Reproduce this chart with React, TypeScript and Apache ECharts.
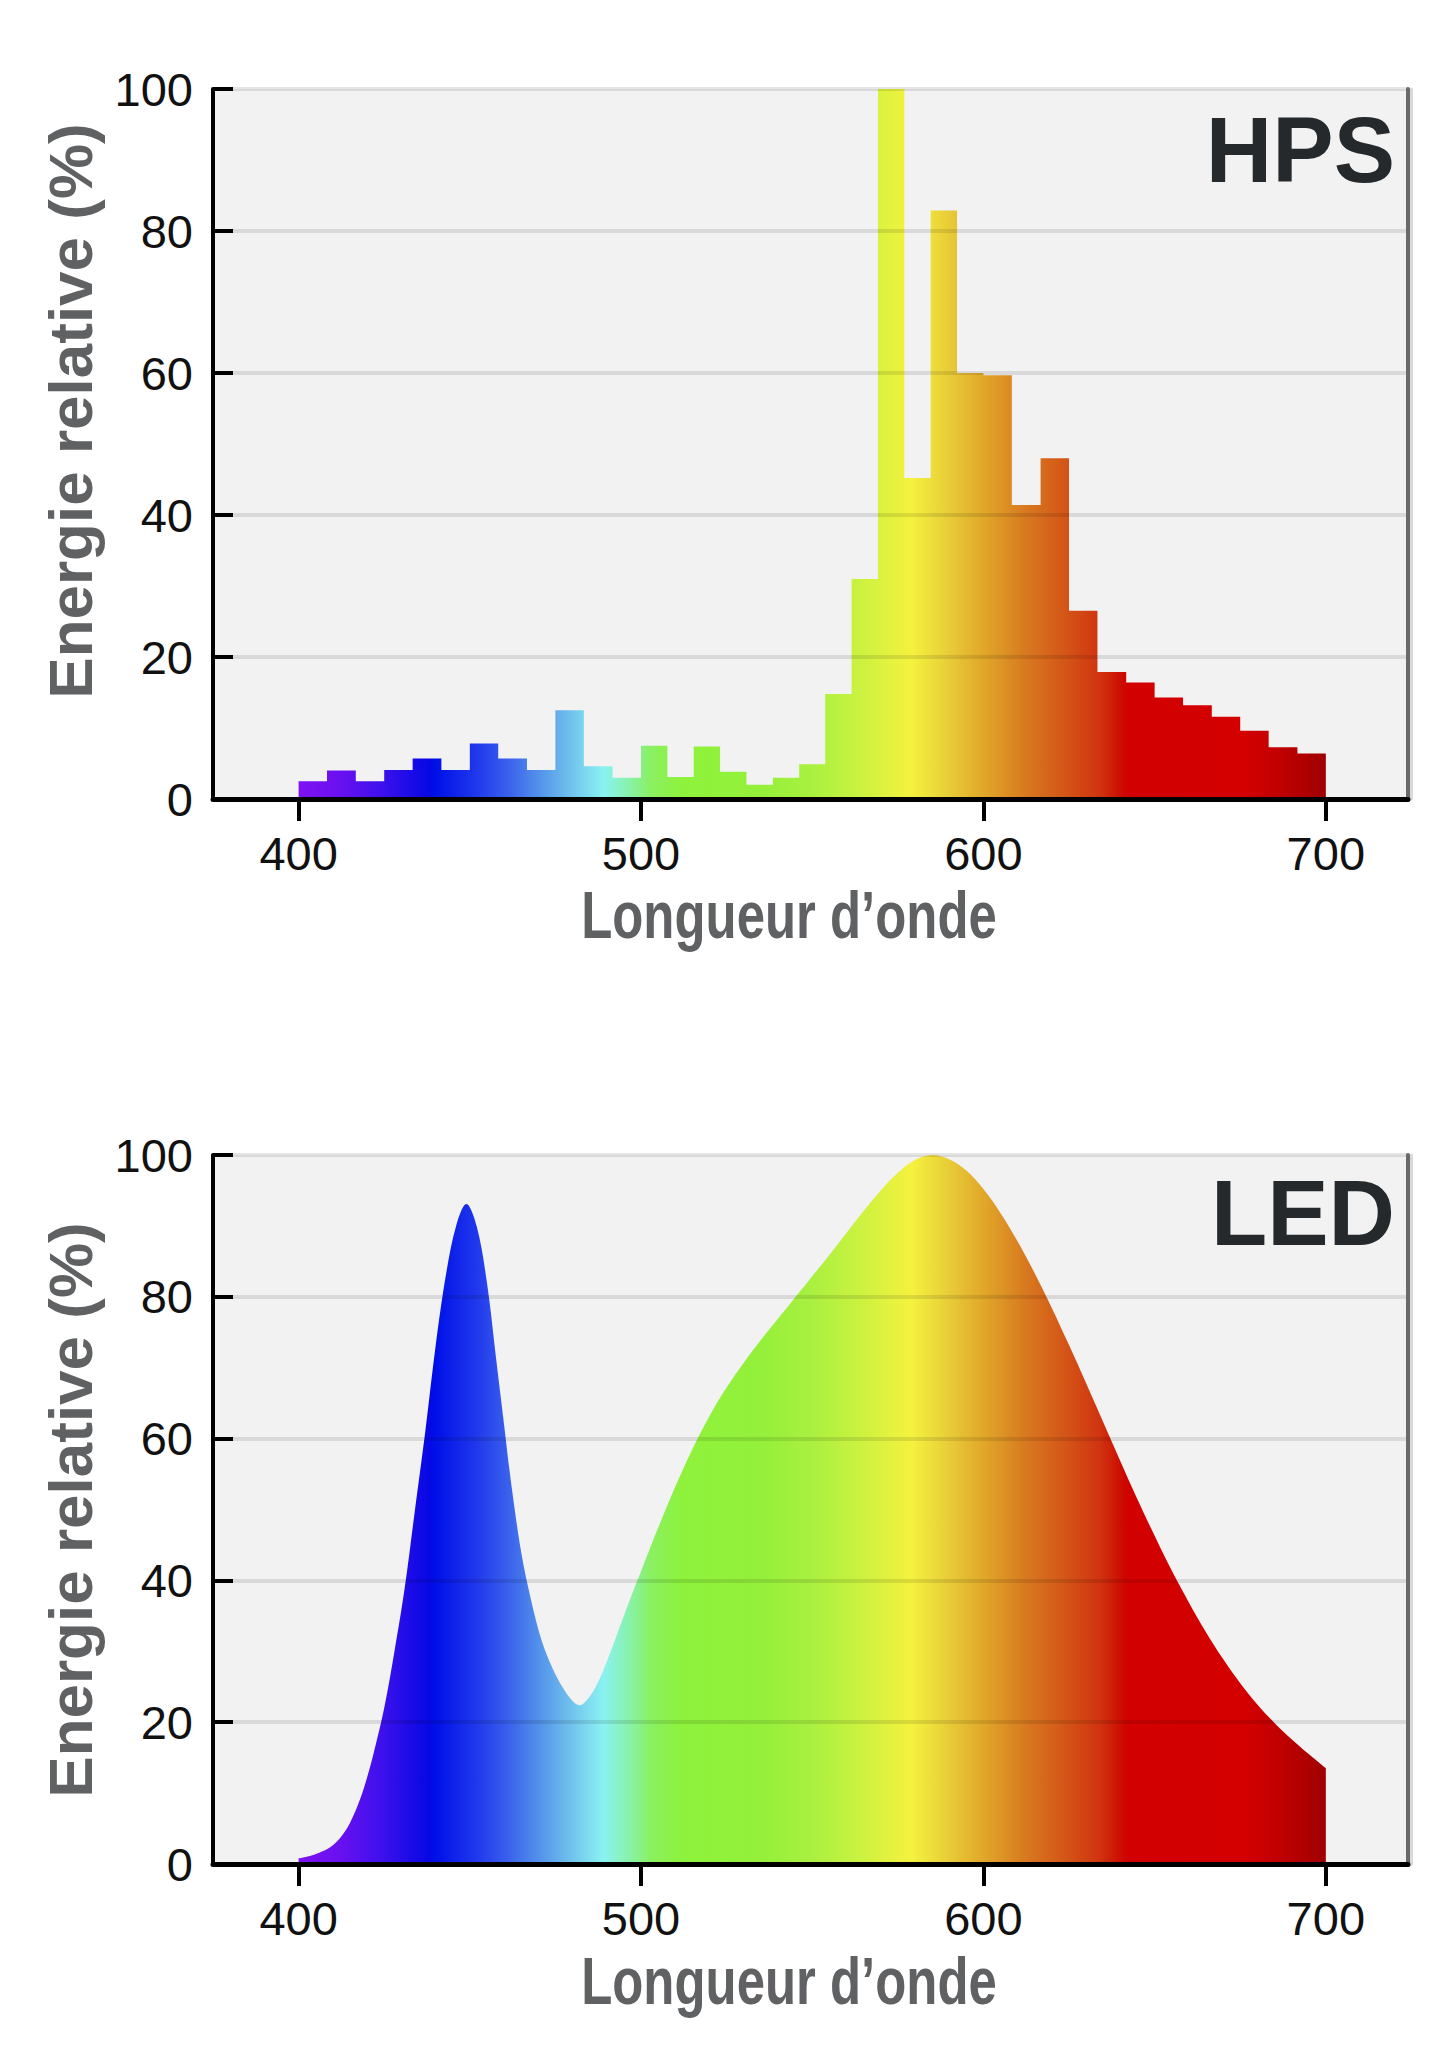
import React, { useEffect, useRef } from "react";
import * as echarts from "echarts";

// ---------- data ----------
const xTicks = [400, 500, 600, 700];
const yTicks = [0, 20, 40, 60, 80, 100];

const panelLabels = ["HPS", "LED"];
const yTitle = "Energie relative (%)";
const xTitle = "Longueur d’onde";

// HPS histogram: start wavelength of each bin, last bin ends at 700 nm
const hpsBinStart = [
  400, 408.3, 416.7, 425, 433.3, 441.7, 450, 458.3, 466.7, 475, 483.3, 491.7,
  500, 507.7, 515.4, 523.1, 530.8, 538.5, 546.2, 553.8, 561.5, 569.2, 576.9, 584.6, 592.3,
  600, 608.3, 616.7, 625, 633.3, 641.7, 650, 658.3, 666.7, 675, 683.3, 691.7,
];
const hpsBinEnd = 700;
const hpsValues = [
  2.5, 4.0, 2.5, 4.1, 5.7, 4.1, 7.8, 5.7, 4.1, 12.5, 4.6, 3.0,
  7.5, 3.1, 7.4, 3.85, 2.0, 3.0, 4.9, 14.8, 31.0, 100, 45.2, 82.9, 60.0,
  59.7, 41.4, 48.0, 26.5, 17.9, 16.4, 14.3, 13.2, 11.6, 9.6, 7.3, 6.4,
];

// LED spectrum
const ledWavelength = [
  400, 403, 406, 409, 412, 415, 418, 420, 422, 425, 428, 431, 434, 437, 440, 443, 446, 449,
  452, 455, 458, 460, 462, 465, 468, 471, 474, 477, 480, 482, 485, 488, 491, 494, 497, 500,
  503, 506, 510, 515, 520, 525, 530, 535, 540, 545, 550, 555, 560, 565, 570, 575, 580, 585,
  590, 595, 600, 605, 610, 615, 620, 625, 630, 635, 640, 645, 650, 655, 660, 665, 670, 675,
  680, 685, 690, 695, 700,
];
const ledValues = [
  0.8, 1.1, 1.6, 2.3, 3.6, 5.8, 9.2, 12.2, 15.8, 22, 30, 39, 50, 61, 73, 83, 90, 93.1,
  90, 82, 70, 62, 54, 44, 37, 31.5, 27.8, 25, 23, 22.4, 23.6, 26.2, 29.8, 33.7, 37.6, 41.3,
  45, 48.6, 53.2, 58.5, 63.2, 67.2, 70.7, 73.9, 76.9, 79.9, 82.9, 85.9, 89, 92.1, 95, 97.5, 99.3, 100,
  99.4, 97.8, 95.2, 91.8, 87.8, 83.3, 78.4, 73.2, 67.8, 62.3, 56.8, 51.4, 46.3, 41.4, 36.9, 32.7, 28.9, 25.5,
  22.5, 19.9, 17.6, 15.5, 13.5,
];

// colour spectrum (wavelength -> colour)
const spectrumNm = [
  400, 412, 425, 438, 440, 452, 462, 471, 480, 489, 496, 503, 512, 535, 550, 565, 579,
  590, 601, 612, 623, 634, 641, 643, 676, 687, 700,
];
const spectrumColors = [
  "#7e12f2", "#6a10f0", "#3a10ec", "#0608e4", "#0010e8", "#2038ec", "#3c64ec", "#5596ea",
  "#72c4ee", "#8af2f2", "#88f2b0", "#8af060", "#8ef23c", "#94f03a", "#aaf040", "#cef240",
  "#f4f23e", "#e8cc38", "#e0a428", "#d87a20", "#d45818", "#d03410", "#cc0800", "#d20000",
  "#d40000", "#c00000", "#a00000",
];

// ---------- layout ----------
const FONT = "'Liberation Sans', Arial, Helvetica, sans-serif";
const grids = [
  { left: 213, top: 89, width: 1195, height: 710 },
  { left: 213, top: 1155, width: 1195, height: 709 },
];
const yTitleCenters = [411, 1510];
const xTitleCenters = [915, 1981];
const labelCenters = [150, 1213];

function spectrumFill() {
  const lo = spectrumNm[0];
  const hi = spectrumNm[spectrumNm.length - 1];
  return new echarts.graphic.LinearGradient(
    0,
    0,
    1,
    0,
    spectrumNm.map((nm, i) => ({ offset: (nm - lo) / (hi - lo), color: spectrumColors[i] }))
  );
}

function buildOption() {
  const xAxes = grids.map((_, i) => ({
    type: "value",
    gridIndex: i,
    min: 375,
    max: 724,
    z: 3,
    axisLine: { show: true, onZero: false, lineStyle: { color: "#000", width: 5 } },
    axisTick: {
      show: true,
      inside: false,
      length: 22,
      customValues: xTicks,
      lineStyle: { color: "#000", width: 4 },
    },
    axisLabel: {
      show: true,
      customValues: xTicks,
      margin: 31,
      fontSize: 47,
      color: "#111",
      fontFamily: FONT,
    },
    splitLine: { show: false },
  }));

  const yAxes: any[] = [];
  grids.forEach((_, i) => {
    yAxes.push({
      type: "value",
      gridIndex: i,
      min: yTicks[0],
      max: yTicks[yTicks.length - 1],
      interval: yTicks[1] - yTicks[0],
      z: 3,
      axisLine: { show: true, onZero: false, lineStyle: { color: "#000", width: 4 } },
      axisTick: { show: true, inside: true, length: 20, lineStyle: { color: "#000", width: 4 } },
      axisLabel: { margin: 20, fontSize: 47, color: "#111", fontFamily: FONT },
      splitLine: { show: true, lineStyle: { color: "rgba(0,0,0,0.10)", width: 4 } },
    });
    // right-hand frame line
    yAxes.push({
      type: "value",
      gridIndex: i,
      position: "right",
      min: yTicks[0],
      max: yTicks[yTicks.length - 1],
      z: 3,
      axisLine: { show: true, onZero: false, lineStyle: { color: "#6a6a6a", width: 4 } },
      axisTick: { show: false },
      axisLabel: { show: false },
      splitLine: { show: false },
    });
    // faint shadow of the frame line
    yAxes.push({
      type: "value",
      gridIndex: i,
      position: "right",
      offset: 3,
      min: yTicks[0],
      max: yTicks[yTicks.length - 1],
      z: 3,
      axisLine: { show: true, onZero: false, lineStyle: { color: "rgba(0,0,0,0.15)", width: 3 } },
      axisTick: { show: false },
      axisLabel: { show: false },
      splitLine: { show: false },
    });
  });

  const hpsData = hpsBinStart
    .map((x, i) => [x, hpsValues[i]])
    .concat([[hpsBinEnd, hpsValues[hpsValues.length - 1]]]);
  const ledData = ledWavelength.map((x, i) => [x, ledValues[i]]);

  const graphic: any[] = [];
  grids.forEach((_, i) => {
    graphic.push({
      type: "text",
      x: 1395,
      y: labelCenters[i],
      z: 10,
      style: {
        text: panelLabels[i],
        fontSize: 92,
        fontWeight: "bold",
        fontFamily: FONT,
        fill: "#25292b",
        align: "right",
        verticalAlign: "middle",
        textAlign: "right",
        textVerticalAlign: "middle",
      },
    });
    graphic.push({
      type: "text",
      x: 70,
      y: yTitleCenters[i],
      rotation: Math.PI / 2,
      z: 10,
      style: {
        text: yTitle,
        fontSize: 62,
        fontWeight: "bold",
        fontFamily: FONT,
        fill: "#5f6163",
        align: "center",
        verticalAlign: "middle",
        textAlign: "center",
        textVerticalAlign: "middle",
      },
    });
    graphic.push({
      type: "text",
      x: 789,
      y: xTitleCenters[i],
      scaleX: 0.76,
      z: 10,
      style: {
        text: xTitle,
        fontSize: 67,
        fontWeight: "bold",
        fontFamily: FONT,
        fill: "#5f6163",
        align: "center",
        verticalAlign: "middle",
        textAlign: "center",
        textVerticalAlign: "middle",
      },
    });
  });

  return {
    animation: false,
    backgroundColor: "#ffffff",
    grid: grids.map((g) => ({
      ...g,
      show: true,
      backgroundColor: "#f2f2f2",
      borderWidth: 0,
      containLabel: false,
    })),
    xAxis: xAxes,
    yAxis: yAxes,
    series: [
      {
        name: "HPS",
        type: "line",
        xAxisIndex: 0,
        yAxisIndex: 0,
        step: "end",
        data: hpsData,
        symbol: "none",
        showSymbol: false,
        silent: true,
        z: 2,
        lineStyle: { width: 0, opacity: 0 },
        areaStyle: { color: spectrumFill(), opacity: 1 },
      },
      {
        name: "LED",
        type: "line",
        xAxisIndex: 1,
        yAxisIndex: 3,
        smooth: 0.35,
        data: ledData,
        symbol: "none",
        showSymbol: false,
        silent: true,
        z: 2,
        lineStyle: { width: 0, opacity: 0 },
        areaStyle: { color: spectrumFill(), opacity: 1 },
      },
    ],
    graphic,
  };
}

export default function App() {
  const ref = useRef<HTMLDivElement>(null);
  useEffect(() => {
    if (!ref.current) return;
    const chart = echarts.init(ref.current, undefined, { renderer: "svg" });
    chart.setOption(buildOption() as any);
    return () => {
      chart.dispose();
    };
  }, []);
  return (
    <div
      ref={ref}
      style={{ position: "absolute", left: 0, top: 0, width: 1434, height: 2048, background: "#fff" }}
    />
  );
}
